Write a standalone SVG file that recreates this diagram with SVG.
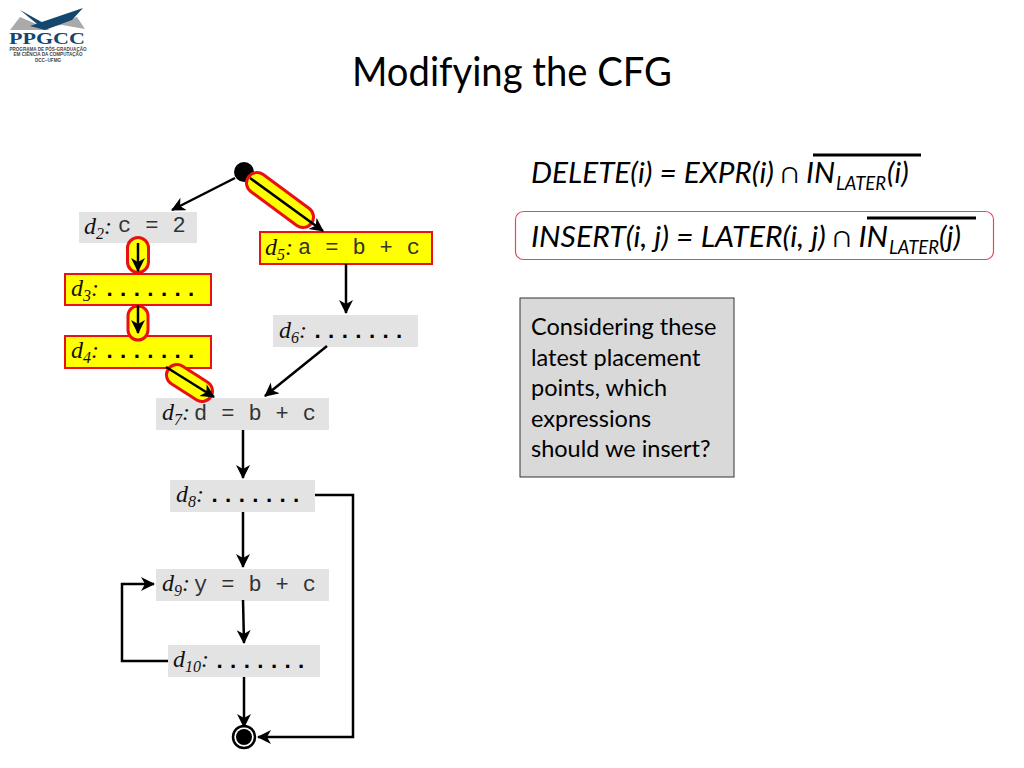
<svg xmlns="http://www.w3.org/2000/svg" width="1024" height="768" viewBox="0 0 1024 768">
<style>
.g{fill:#e3e3e3}
.y{fill:#ffff00;stroke:#e81010;stroke-width:2}
.pill{fill:#ffff00;stroke:#e81010;stroke-width:3}
.e{fill:none;stroke:#000;stroke-width:2.500;marker-end:url(#a)}
.l{font-family:"Liberation Serif",serif;font-style:italic;font-size:24px;fill:#111}
.s{font-size:16px}
.c{font-family:"Liberation Mono",monospace;font-size:22px;letter-spacing:.4px;fill:#333}
.d{font-weight:bold;fill:#000}
.m{font-family:Lato,"Open Sans",sans-serif;font-style:italic;font-size:29px;fill:#000}
.u{font-family:Lato,"Open Sans",sans-serif;font-style:italic;font-size:19px;fill:#000}
.b{font-family:Lato,"Open Sans",sans-serif;font-size:23.500px;fill:#000}
.lg{font-family:"Liberation Sans",sans-serif;font-weight:bold;font-size:4.600px;fill:#444;text-anchor:middle}
</style>
<defs>
<marker id="a" markerUnits="userSpaceOnUse" markerWidth="16" markerHeight="16" refX="13" refY="7" orient="auto">
<path d="M0 0L14 7L0 14L4 7Z" fill="#000"/>
</marker>
</defs>
<rect width="1024" height="768" fill="#fff"/>
<g id="logo">
<path d="M10 30L20 17L50 30Z" fill="#a9aaa9"/>
<path d="M43 27L77 17L85 29L62 25Z" fill="#a9aaa9"/>
<path d="M20 10L47 25L42 28Z" fill="#14476f"/>
<path d="M30 26L83 8L72 20L45 30Z" fill="#14476f"/>
<text x="47" y="44" text-anchor="middle" font-family="Liberation Serif,serif" font-weight="bold" font-size="17" textLength="76" lengthAdjust="spacingAndGlyphs" fill="#14476f">PPGCC</text>
<text class="lg" x="48" y="50.500" textLength="77" lengthAdjust="spacingAndGlyphs">PROGRAMA DE PÓS-GRADUAÇÃO</text>
<text class="lg" x="48" y="56" textLength="69" lengthAdjust="spacingAndGlyphs">EM CIÊNCIA DA COMPUTAÇÃO</text>
<text class="lg" x="48" y="61.500">DCC−UFMG</text>
</g>
<text id="title" x="352" y="86" font-family="Lato,'Open Sans',sans-serif" font-size="40" textLength="320" lengthAdjust="spacingAndGlyphs" fill="#000">Modifying the CFG</text>

<g id="nodes">
<g id="d2"><rect class="g" x="79" y="212" width="118" height="31"/><text class="l" x="84" y="234">d<tspan class="s" dy="5">2</tspan><tspan dy="-5">:</tspan></text><text class="c" x="118" y="232">c = 2</text></g>
<g id="d3"><rect class="y" x="65" y="274" width="146" height="31"/><text class="l" x="71" y="296">d<tspan class="s" dy="5">3</tspan><tspan dy="-5">:</tspan></text><text class="c d" x="103" y="296">.......</text></g>
<g id="d4"><rect class="y" x="65" y="336" width="146" height="32"/><text class="l" x="71" y="358">d<tspan class="s" dy="5">4</tspan><tspan dy="-5">:</tspan></text><text class="c d" x="103" y="358">.......</text></g>
<g id="d5"><rect class="y" x="260" y="232" width="172" height="32"/><text class="l" x="265" y="255">d<tspan class="s" dy="5">5</tspan><tspan dy="-5">:</tspan></text><text class="c" x="298" y="254">a = b + c</text></g>
<g id="d6"><rect class="g" x="273" y="315" width="145" height="32"/><text class="l" x="279" y="338">d<tspan class="s" dy="5">6</tspan><tspan dy="-5">:</tspan></text><text class="c d" x="311" y="338">.......</text></g>
<g id="d7"><rect class="g" x="156" y="398" width="173" height="32"/><text class="l" x="162" y="420">d<tspan class="s" dy="5">7</tspan><tspan dy="-5">:</tspan></text><text class="c" x="194" y="420">d = b + c</text></g>
<g id="d8"><rect class="g" x="170" y="480" width="145" height="32"/><text class="l" x="176" y="502">d<tspan class="s" dy="5">8</tspan><tspan dy="-5">:</tspan></text><text class="c d" x="208" y="502">.......</text></g>
<g id="d9"><rect class="g" x="156" y="569" width="173" height="32"/><text class="l" x="162" y="591">d<tspan class="s" dy="5">9</tspan><tspan dy="-5">:</tspan></text><text class="c" x="194" y="591">y = b + c</text></g>
<g id="d10"><rect class="g" x="168" y="645" width="152" height="32"/><text class="l" x="173" y="667">d<tspan class="s" dy="5">10</tspan><tspan dy="-5">:</tspan></text><text class="c d" x="213" y="668">.......</text></g>
<g id="start"><circle cx="244" cy="172" r="10" fill="#000"/></g>
<g id="end"><circle cx="244" cy="737" r="11" fill="#fff" stroke="#000" stroke-width="2.500"/><circle cx="244" cy="737" r="8" fill="#000"/></g>
</g>

<g id="highlights">
<line x1="257" y1="183" x2="303" y2="217" stroke="#e81010" stroke-width="24" stroke-linecap="round"/>
<line x1="257" y1="183" x2="303" y2="217" stroke="#ffff00" stroke-width="18" stroke-linecap="round"/>
<rect class="pill" x="127.500" y="237.500" width="21" height="35" rx="10.500"/>
<rect class="pill" x="128" y="306" width="20" height="34" rx="10"/>
<line x1="177" y1="375" x2="202" y2="391" stroke="#e81010" stroke-width="24" stroke-linecap="round"/>
<line x1="177" y1="375" x2="202" y2="391" stroke="#ffff00" stroke-width="18" stroke-linecap="round"/>
</g>

<g id="connectors">
<path class="e" d="M235 178L172 210"/>
<path class="e" d="M250 178L323 231"/>
<path class="e" d="M138 243V271"/>
<path class="e" d="M138 305V333"/>
<path class="e" d="M166 367L214 397"/>
<path class="e" d="M346 264V313"/>
<path class="e" d="M327 346L265 396"/>
<path class="e" d="M243 430V478"/>
<path class="e" d="M243 512V567"/>
<path class="e" d="M243 600L244 643"/>
<path class="e" d="M244 677V727"/>
<path class="e" d="M315 495H353V737H258"/>
<path class="e" d="M168 661H122V584H154"/>
</g>

<g id="formulas">
<text class="m" x="531" y="183" textLength="304" lengthAdjust="spacingAndGlyphs">DELETE(i) = EXPR(i) ∩ IN</text>
<text class="u" x="836" y="190" textLength="50" lengthAdjust="spacingAndGlyphs">LATER</text>
<text class="m" x="887" y="183">(i)</text>
<line x1="813" y1="155" x2="921" y2="155" stroke="#000" stroke-width="3"/>
<rect x="515.500" y="211.500" width="478" height="48" rx="8" fill="none" stroke="#e8485a" stroke-width="1.200"/>
<text class="m" x="531" y="247" textLength="357" lengthAdjust="spacingAndGlyphs">INSERT(i, j) = LATER(i, j) ∩ IN</text>
<text class="u" x="889" y="254" textLength="50" lengthAdjust="spacingAndGlyphs">LATER</text>
<text class="m" x="939" y="247">(j)</text>
<line x1="867" y1="218" x2="976" y2="218" stroke="#000" stroke-width="3"/>
</g>

<g id="note">
<rect x="520" y="298" width="214" height="179" fill="#d9d9d9" stroke="#333" stroke-width="1"/>
<text class="b" x="531" y="335">Considering these</text>
<text class="b" x="531" y="366">latest placement</text>
<text class="b" x="531" y="396">points, which</text>
<text class="b" x="531" y="427">expressions</text>
<text class="b" x="531" y="457">should we insert?</text>
</g>
</svg>
